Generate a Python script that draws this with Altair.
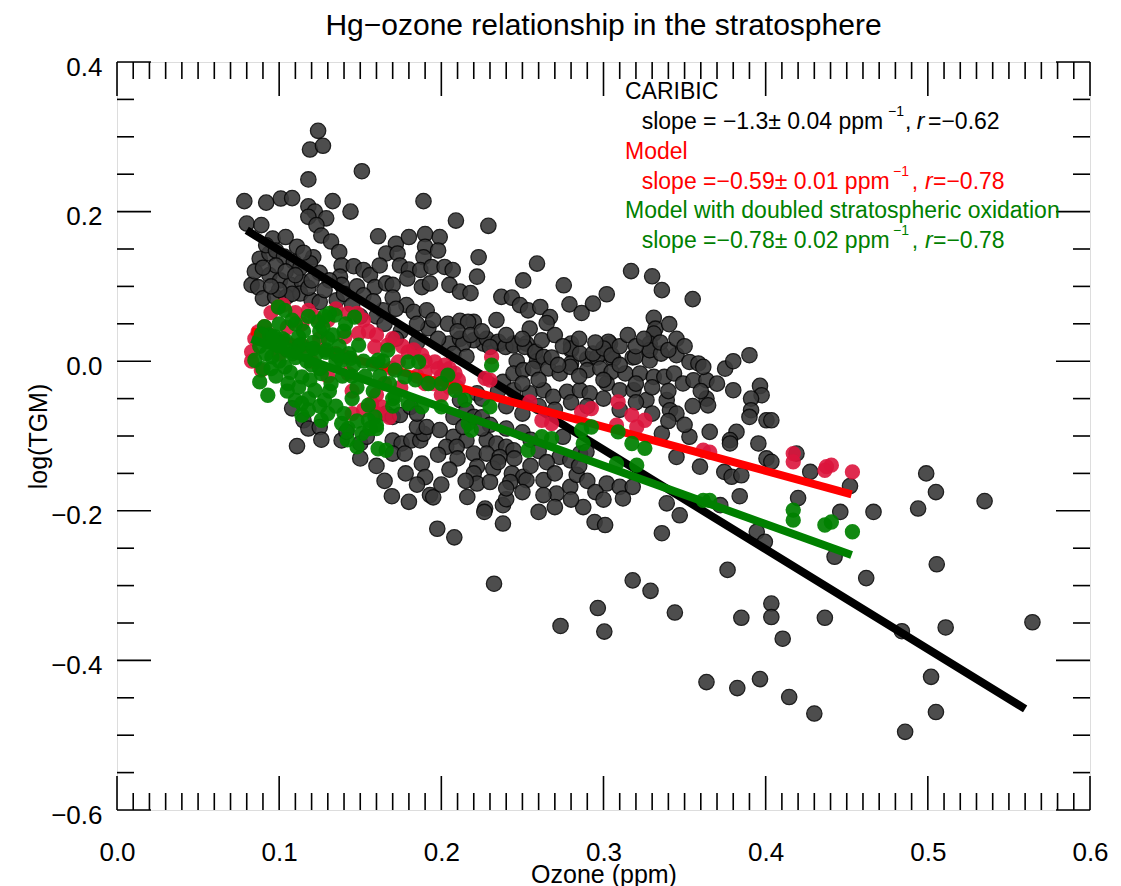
import altair as alt
import pandas as pd

F = "Liberation Sans"
W, H = 973, 748

# ---------------- data ----------------
caribic_ozone = [
    0.124, 0.119, 0.127, 0.151, 0.118, 0.0785, 0.092, 0.101, 0.108, 0.133, 0.118, 0.122, 0.144, 0.189, 0.209,
    0.080, 0.089, 0.118, 0.129, 0.123, 0.126, 0.096, 0.104, 0.111, 0.132, 0.137, 0.161, 0.172, 0.180, 0.190,
    0.199, 0.166, 0.173, 0.190, 0.198, 0.189, 0.223, 0.121, 0.119, 0.088, 0.094, 0.1385, 0.146, 0.152, 0.156,
    0.162, 0.1745, 0.180, 0.187, 0.194, 0.202, 0.207, 0.222, 0.094, 0.1005, 0.107, 0.114, 0.083, 0.087, 0.1375,
    0.1385, 0.159, 0.166, 0.170, 0.179, 0.188, 0.193, 0.205, 0.2115, 0.218, 0.090, 0.0975, 0.1045, 0.113, 0.120,
    0.125, 0.1355, 0.164, 0.1785, 0.183, 0.191, 0.204, 0.2115, 0.220, 0.192,
    0.229, 0.259, 0.2505, 0.2755, 0.237, 0.2435, 0.2485, 0.2535, 0.261, 0.267, 0.265, 0.2545, 0.279, 0.2865,
    0.2935, 0.302, 0.317, 0.330, 0.336, 0.355, 0.331, 0.332, 0.331, 0.3405, 0.234, 0.226, 0.232, 0.236, 0.2445,
    0.2525, 0.280, 0.304, 0.3285,
    0.2165, 0.205, 0.2115, 0.220, 0.228, 0.235, 0.2575, 0.280, 0.303, 0.302, 0.3285, 0.2465, 0.259, 0.280,
    0.290, 0.296, 0.306, 0.318, 0.3285,
    0.2135, 0.2075, 0.2155, 0.108, 0.115, 0.118, 0.125, 0.111, 0.126, 0.1385, 0.1415, 0.150, 0.154, 0.166,
    0.170, 0.1745, 0.170, 0.1755, 0.1815, 0.187, 0.189, 0.170, 0.1775, 0.188, 0.185, 0.191, 0.199, 0.2075,
    0.2155, 0.220, 0.222, 0.220, 0.203, 0.2095, 0.181, 0.185,
    0.2115, 0.2155, 0.222, 0.220, 0.2075, 0.2135,
    0.230, 0.2395, 0.2445, 0.2515, 0.258, 0.263, 0.280, 0.2855, 0.2935, 0.300, 0.305, 0.3195, 0.3285, 0.3355,
    0.345, 0.353, 0.3585, 0.390,
    0.238, 0.2445, 0.2505, 0.2565, 0.266, 0.273, 0.2795, 0.290, 0.298, 0.305, 0.3135, 0.3225, 0.331, 0.3375,
    0.3435, 0.349, 0.3555, 0.3635, 0.380,
    0.2445, 0.2545, 0.263, 0.269, 0.2775, 0.2855, 0.2915, 0.302, 0.310, 0.3185, 0.3265, 0.339, 0.341, 0.345,
    0.228, 0.234, 0.240, 0.228, 0.236, 0.2445,
    0.232, 0.2435, 0.2505, 0.263, 0.271, 0.2795, 0.2835,
    0.227, 0.238, 0.238, 0.260, 0.263,
    0.275, 0.273, 0.2795, 0.2855, 0.2895,
    0.2875, 0.2945, 0.301,
    0.302, 0.310, 0.312, 0.318,
    0.336, 0.345, 0.353,
    0.339, 0.347, 0.336,
    0.3615, 0.3965, 0.3975, 0.391, 0.3635, 0.3645, 0.391, 0.390, 0.4005, 0.4035, 0.3655, 0.382, 0.378, 0.378,
    0.3955, 0.4005, 0.4035, 0.3595, 0.419, 0.3745, 0.379, 0.385, 0.4275, 0.452, 0.384, 0.420, 0.372, 0.446,
    0.4665, 0.499, 0.505, 0.494, 0.535, 0.3945, 0.3995, 0.4425, 0.3765, 0.462, 0.5055, 0.4035, 0.385, 0.4035,
    0.4105, 0.4365, 0.484, 0.511, 0.5645, 0.3635, 0.3825, 0.3965, 0.4145, 0.430, 0.502, 0.505, 0.486,
    0.1695, 0.180, 0.193, 0.195, 0.216, 0.2265, 0.240, 0.1975, 0.208, 0.2325, 0.318, 0.329, 0.344, 0.2965,
    0.3005, 0.2735, 0.222, 0.230, 0.2425, 0.2525,
    # dense parts
    0.092, 0.098, 0.103, 0.109, 0.113, 0.098, 0.104, 0.110, 0.085, 0.090, 0.115, 0.125, 0.131, 0.128, 0.118,
    0.108, 0.100, 0.095, 0.120, 0.140, 0.148, 0.152, 0.158, 0.170, 0.172, 0.160, 0.145, 0.150, 0.165, 0.175,
    0.185, 0.195, 0.198, 0.185, 0.172,
    0.210, 0.218, 0.225, 0.240, 0.250, 0.262, 0.270, 0.275, 0.285, 0.295, 0.310, 0.315, 0.320, 0.325, 0.335,
    0.340, 0.345, 0.350, 0.268, 0.272, 0.285, 0.300, 0.310, 0.320, 0.330, 0.340, 0.260, 0.250, 0.235, 0.225,
    0.240, 0.250, 0.260, 0.270, 0.280, 0.290, 0.300, 0.310, 0.320, 0.330, 0.340, 0.350, 0.355, 0.360, 0.370,
    0.375, 0.380,
    0.225, 0.230, 0.240, 0.250, 0.255, 0.260, 0.265, 0.255, 0.245, 0.235, 0.225, 0.270, 0.285, 0.290, 0.295,
    0.300, 0.280, 0.270, 0.250, 0.240, 0.210, 0.215, 0.205, 0.198, 0.190, 0.200, 0.185, 0.178, 0.165, 0.160,
    0.150,
]
caribic_logtgm = [
    0.308, 0.283, 0.288, 0.254, 0.243, 0.214, 0.212, 0.2175, 0.218, 0.214, 0.207, 0.200, 0.200, 0.214, 0.188,
    0.184, 0.182, 0.193, 0.191, 0.182, 0.168, 0.164, 0.166, 0.153, 0.160, 0.146, 0.167, 0.157, 0.166, 0.170,
    0.166, 0.144, 0.144, 0.153, 0.148, 0.139, 0.139, 0.139, 0.131, 0.137, 0.144, 0.128, 0.127, 0.122, 0.115,
    0.128, 0.128, 0.1225, 0.122, 0.126, 0.126, 0.122, 0.113, 0.115, 0.108, 0.102, 0.106, 0.102, 0.099, 0.113,
    0.102, 0.099, 0.104, 0.102, 0.1105, 0.099, 0.104, 0.102, 0.093, 0.091, 0.084, 0.086, 0.086, 0.0905, 0.0815,
    0.079, 0.0815, 0.068, 0.075, 0.066, 0.068, 0.050, 0.054, 0.0525, 0.044,
    0.181, 0.1305, 0.108, 0.1015, 0.086, 0.085, 0.075, 0.068, 0.0725, 0.059, 0.051, 0.0435, 0.076, 0.0645,
    0.077, 0.0895, 0.1205, 0.1135, 0.095, 0.083, 0.058, 0.0435, 0.037, 0.0495, 0.055, 0.0235, 0.0235, 0.0235, 0.0235,
    0.0235, 0.0235, 0.0235, 0.0235,
    0.0525, 0.0235, 0.030, 0.028, 0.030, 0.026, 0.0125, 0.0147, 0.026, 0.0103, 0.0147, 0.0, 0.0, -0.003,
    0.003, 0.005, 0.003, 0.005, 0.001,
    0.0235, 0.010, 0.006, -0.063, -0.079, -0.090, -0.088, -0.1135, -0.105, -0.106, -0.0945, -0.110, -0.101, -0.070,
    -0.0745, -0.072, -0.106, -0.110, -0.106, -0.106, -0.097, -0.1235, -0.1235, -0.137, -0.088, -0.088, -0.092, -0.101,
    -0.106, -0.1235, -0.141, -0.150, -0.1145, -0.1145, -0.061, -0.070,
    -0.052, -0.0655, -0.043, -0.0745, -0.0745, -0.088,
    0.019, 0.019, 0.021, 0.019, 0.0125, 0.0057, 0.017, 0.0102, 0.0102, 0.017, 0.008, 0.0057, 0.0147, 0.0102,
    0.008, -0.001, -0.003, 0.008,
    -0.0277, -0.0164, -0.012, -0.0098, -0.0098, -0.0164, -0.0076, -0.012, -0.0098, -0.0143, -0.0164, -0.0164, -0.021, -0.021,
    -0.0164, -0.0298, -0.0254, -0.0254, -0.0388,
    -0.0388, -0.043, -0.0388, -0.0477, -0.041, -0.0388, -0.043, -0.0298, -0.0388, -0.0388, -0.052, -0.052, -0.0655, -0.070,
    -0.1055, -0.110, -0.1145, -0.1235, -0.128, -0.119,
    -0.1435, -0.150, -0.1545, -0.159, -0.177, -0.168, -0.152,
    -0.197, -0.1925, -0.217, -0.2015, -0.179,
    -0.101, -0.128, -0.1325, -0.1235, -0.121,
    -0.195, -0.215, -0.219,
    -0.1635, -0.168, -0.1835, -0.168,
    -0.0967, -0.128, -0.101,
    -0.190, -0.206, -0.230,
    -0.0076, -0.033, -0.0455, -0.050, -0.050, -0.059, -0.0655, -0.0745, -0.079, -0.079, -0.0945, -0.0945, -0.1055, -0.110,
    -0.110, -0.130, -0.1345, -0.141, -0.1235, -0.148, -0.1545, -0.1525, -0.148, -0.167, -0.1805, -0.183, -0.1925, -0.2015,
    -0.2015, -0.150, -0.175, -0.197, -0.187, -0.228, -0.2415, -0.2615, -0.279, -0.290, -0.2715, -0.324, -0.343, -0.342,
    -0.371, -0.343, -0.361, -0.356, -0.349, -0.429, -0.437, -0.425, -0.449, -0.471, -0.422, -0.469, -0.4955,
    -0.1805, -0.188, -0.179, -0.182, -0.1815, -0.2015, -0.1845, -0.224, -0.2355, -0.2975, -0.293, -0.307, -0.336, -0.330,
    -0.3615, -0.354, -0.1635, -0.1615, -0.1615, -0.159,
    # dense parts
    0.155, 0.148, 0.140, 0.133, 0.125, 0.128, 0.120, 0.115, 0.120, 0.125, 0.145, 0.118, 0.108, 0.095, 0.098,
    0.090, 0.095, 0.100, 0.108, 0.090, 0.100, 0.088, 0.080, 0.085, 0.070, 0.060, 0.075, 0.060, 0.050, 0.040,
    0.050, 0.055, 0.030, 0.025, 0.030,
    0.040, 0.035, 0.040, 0.035, 0.030, 0.028, 0.035, 0.020, 0.030, 0.025, 0.020, 0.035, 0.020, 0.030, 0.025,
    0.015, 0.030, 0.020, 0.005, -0.005, -0.020, -0.025, -0.005, -0.030, -0.035, -0.040, -0.025, -0.030, -0.040, -0.050,
    -0.060, -0.070, -0.060, -0.065, -0.055, -0.060, -0.050, -0.065, -0.055, -0.070, -0.080, -0.085, -0.060, -0.040, -0.030,
    -0.010, 0.000,
    -0.075, -0.085, -0.090, -0.095, -0.105, -0.120, -0.135, -0.140, -0.130, -0.135, -0.090, -0.150, -0.140, -0.160, -0.175,
    -0.185, -0.185, -0.195, -0.175, -0.170, -0.130, -0.160, -0.145, -0.125, -0.155, -0.165, -0.165, -0.150, -0.160, -0.140,
    -0.130,
]

model_ozone = [
    0.1025, 0.0995, 0.087, 0.091, 0.083, 0.114, 0.122, 0.1425, 0.148, 0.149, 0.1405, 0.159, 0.167, 0.1795,
    0.188, 0.196, 0.202, 0.2085, 0.2105, 0.1735, 0.1695, 0.157, 0.163, 0.1405, 0.1425, 0.089, 0.093,
    0.105, 0.130, 0.125, 0.115, 0.135, 0.155, 0.165, 0.160, 0.185, 0.195, 0.175, 0.120, 0.100, 0.145, 0.130,
    0.200, 0.205, 0.190, 0.2055, 0.227,
    0.095, 0.110, 0.118, 0.135, 0.152, 0.160, 0.170, 0.176, 0.183, 0.190, 0.198, 0.205, 0.210, 0.200, 0.190,
    0.168, 0.160, 0.152, 0.085, 0.083, 0.145,
    0.231, 0.230, 0.2545, 0.262, 0.268, 0.2865, 0.2925, 0.309, 0.3175, 0.3255, 0.3205, 0.308, 0.3615, 0.3655,
    0.417, 0.417, 0.4375, 0.4405, 0.4365, 0.4535,
]
model_logtgm = [
    0.075, 0.0725, 0.039, 0.046, 0.0125, 0.050, 0.059, 0.064, 0.064, 0.037, 0.0325, 0.019, 0.0214, 0.0125,
    0.008, -0.001, -0.0053, -0.0164, -0.025, -0.001, -0.0098, -0.0566, -0.061, 0.0057, -0.0164, -0.012, 0.037,
    0.045, 0.055, 0.030, 0.020, 0.010, 0.040, -0.030, -0.045, -0.020, -0.030, -0.035, 0.000, 0.010, -0.040, -0.020,
    -0.020, -0.035, -0.015, -0.021, -0.023,
    0.065, 0.065, 0.068, 0.070, 0.055, 0.035, 0.030, 0.020, 0.015, 0.000, -0.010, -0.010, -0.035, -0.045, -0.030,
    -0.075, -0.070, -0.065, 0.030, 0.000, -0.070,
    0.0057, -0.0254, -0.0544, -0.079, -0.0833, -0.0678, -0.0633, -0.0544, -0.072, -0.079, -0.088, -0.0855, -0.119, -0.1215,
    -0.1235, -0.1345, -0.141, -0.139, -0.146, -0.148,
]

model2_ozone = [
    0.1035, 0.091, 0.085, 0.088, 0.093, 0.110, 0.114, 0.126, 0.1385, 0.1425, 0.151, 0.148, 0.160, 0.155,
    0.161, 0.166, 0.167, 0.1465, 0.1345, 0.124, 0.112, 0.0975, 0.149, 0.1385, 0.126, 0.114, 0.1035, 0.0955,
    0.161, 0.1715, 0.1795, 0.186, 0.1775, 0.184, 0.192, 0.200, 0.204, 0.2085, 0.1715, 0.1795, 0.188, 0.200,
    0.2145, 0.2165, 0.2185, 0.122, 0.128, 0.114, 0.1055, 0.155, 0.159, 0.160,
    0.100, 0.108, 0.118, 0.130, 0.140, 0.120, 0.132, 0.145, 0.098, 0.110, 0.125, 0.135, 0.145, 0.118,
    0.0995, 0.131,
    0.088, 0.092, 0.095, 0.100, 0.102, 0.105, 0.107, 0.110, 0.112, 0.115, 0.117, 0.119, 0.121, 0.123, 0.125,
    0.127, 0.129, 0.131, 0.133, 0.135, 0.137, 0.139, 0.141, 0.143, 0.146, 0.148, 0.153, 0.158, 0.162, 0.164,
    0.168, 0.170, 0.105, 0.112, 0.118, 0.125, 0.130, 0.140, 0.148, 0.100, 0.108, 0.118, 0.128, 0.094, 0.090,
    0.089, 0.096, 0.104, 0.113, 0.121, 0.129, 0.136, 0.144, 0.152, 0.158, 0.170, 0.156, 0.142,
    0.231, 0.230, 0.2535, 0.262, 0.268, 0.2865, 0.2875, 0.2925, 0.309, 0.3175, 0.3255, 0.3205, 0.308, 0.3615,
    0.3655, 0.417, 0.417, 0.4365, 0.4405, 0.4535,
]
model2_logtgm = [
    0.068, 0.046, 0.0013, -0.0277, -0.0455, -0.052, -0.072, -0.079, -0.0833, -0.090, -0.0967, -0.1145, -0.0855, -0.0588,
    -0.117, -0.119, 0.0147, 0.059, 0.0615, 0.0525, 0.0325, 0.0325, 0.0214, 0.0013, -0.0164, -0.021, -0.0076, 0.0057,
    0.0013, -0.012, -0.001, -0.001, -0.021, -0.025, -0.0298, -0.0298, -0.0187, -0.0388, -0.0477, -0.0566, -0.061, -0.061,
    -0.052, -0.0833, -0.092, -0.0388, -0.052, -0.0566, -0.0298, -0.079, -0.0745, -0.090,
    0.020, 0.010, 0.015, 0.030, 0.040, -0.005, -0.030, -0.020, -0.020, 0.050, 0.040, -0.060, -0.050, -0.065,
    0.0725, 0.064,
    0.020, 0.010, -0.010, 0.000, 0.030, 0.015, -0.015, 0.005, 0.020, 0.040, 0.000, -0.025, 0.025, 0.010, -0.010,
    0.045, 0.015, -0.040, 0.035, 0.000, 0.020, -0.020, 0.050, 0.010, -0.005, -0.035, -0.020, -0.040, -0.020, 0.000,
    -0.030, -0.060, -0.040, -0.035, -0.050, -0.060, -0.070, -0.070, -0.080, 0.050, 0.055, 0.060, 0.060, 0.035, -0.010,
    0.036, 0.032, 0.027, 0.022, 0.017, 0.012, 0.008, 0.004, 0.000, -0.004, -0.050, -0.090, -0.105,
    -0.0053, -0.061, -0.119, -0.101, -0.1035, -0.092, -0.110, -0.088, -0.0945, -0.110, -0.1165, -0.139, -0.137, -0.186,
    -0.186, -0.199, -0.2125, -0.219, -0.215, -0.228,
]

# linear fits: slope, intercept and x-range
fit_slope = [-1.333, -0.59, -0.78]
fit_intercept = [0.2817, 0.0893, 0.0943]
fit_xmin = [0.08, 0.083, 0.083]
fit_xmax = [0.56, 0.453, 0.453]

# axis ticks
x_major = [0.0, 0.1, 0.2, 0.3, 0.4, 0.5, 0.6]
x_minor = [i / 100 for i in range(61) if i % 10 != 0]
y_major = [-0.6, -0.4, -0.2, 0.0, 0.2, 0.4]
y_minor = [round(-0.6 + i * 0.05, 2) for i in range(21) if i % 4 != 0]

# legend text
legend_head = ["CARIBIC", "Model", "Model with doubled stratospheric oxidation"]
legend_slope = ["slope = \u22121.3\u00b1 0.04 ppm", "slope =\u22120.59\u00b1 0.01 ppm", "slope =\u22120.78\u00b1 0.02 ppm"]
legend_r = ["=\u22120.62", "=\u22120.78", "=\u22120.78"]
legend_colors = ["black", "#FF0000", "#008000"]

# ---------------- chart ----------------
xs = alt.Scale(domain=[0, 0.6], nice=False, zero=False)
ys = alt.Scale(domain=[-0.6, 0.4], nice=False, zero=False)

XT, YT = "Ozone (ppm)", "log(TGM)"
xaxis = alt.Axis(values=x_major, format=".1f", ticks=False, tickSize=0, domain=False, grid=False,
                 labelFont=F, labelFontSize=26, labelColor="black", labelPadding=29, labelFlush=False,
                 labelOverlap=False, titleFont=F, titleFontSize=25, titleFontWeight="normal", titleColor="black",
                 titleX=W / 2, titleY=64, titleBaseline="middle", titleAlign="center")
yaxis = alt.Axis(values=y_major, format=".1f", ticks=False, tickSize=0, domain=False, grid=False,
                 labelFont=F, labelFontSize=26, labelColor="black", labelPadding=15, labelOffset=5,
                 labelOverlap=False, titleFont=F, titleFontSize=25, titleFontWeight="normal", titleColor="black",
                 titleX=-79, titleY=H / 2, titleBaseline="middle", titleAlign="center", titleAngle=-90)


def X(field):
    return alt.X(field, scale=xs, axis=xaxis, title=XT)


def Y(field):
    return alt.Y(field, scale=ys, axis=yaxis, title=YT)


df_c = pd.DataFrame({"ozone": caribic_ozone, "logtgm": caribic_logtgm})
df_m = pd.DataFrame({"ozone": model_ozone, "logtgm": model_logtgm})
df_m2 = pd.DataFrame({"ozone": model2_ozone, "logtgm": model2_logtgm})


def fit_df(i):
    xa, xb = fit_xmin[i], fit_xmax[i]
    return pd.DataFrame({"ozone": [xa, xb],
                         "logtgm": [fit_intercept[i] + fit_slope[i] * xa, fit_intercept[i] + fit_slope[i] * xb]})


SZ = 235


def pts(df, **kw):
    return alt.Chart(df).mark_circle(size=SZ, **kw).encode(x=X("ozone:Q"), y=Y("logtgm:Q"))


def fline(i, color):
    return alt.Chart(fit_df(i)).mark_line(color=color, strokeWidth=8, strokeCap="butt").encode(
        x=X("ozone:Q"), y=Y("logtgm:Q"))


black_pts = pts(df_c, fill="#3a3a3a", stroke="#080808", strokeWidth=1.3, opacity=0.9)
red_pts = pts(df_m, fill="#DC143C", opacity=0.9)
green_pts = pts(df_m2, fill="#008000", opacity=0.93)


def ticks_x(vals, length, top):
    y1, y2 = (0, length) if top else (H, H - length)
    return alt.Chart(pd.DataFrame({"v": vals})).mark_rule(color="black", strokeWidth=1.6).encode(
        x=X("v:Q"), y=alt.value(y1), y2=alt.value(y2))


def ticks_y(vals, length, right):
    x1, x2 = (W, W - length) if right else (0, length)
    return alt.Chart(pd.DataFrame({"v": vals})).mark_rule(color="black", strokeWidth=1.6).encode(
        y=Y("v:Q"), x=alt.value(x1), x2=alt.value(x2))


def txt(s, x, y, color, size=23, style="normal"):
    return alt.Chart(pd.DataFrame({"t": [s]})).mark_text(
        align="left", baseline="alphabetic", font=F, fontSize=size, fontStyle=style, color=color).encode(
        x=alt.value(x), y=alt.value(y), text="t:N")


texts = []
head_y = [37.3, 97.3, 156.3]
slope_y = [67.3, 127.3, 186.3]
sup_x = [771, 776, 776]
comma_x = [788, 794.7, 794.7]
r_x = [799.7, 808, 808]
eq_x = [811, 816, 816]
for i in range(3):
    c = legend_colors[i]
    texts += [
        txt(legend_head[i], 508, head_y[i], c),
        txt(legend_slope[i], 524.7, slope_y[i], c),
        txt("\u22121", sup_x[i], slope_y[i] - 13.5, c, size=14),
        txt(",", comma_x[i], slope_y[i], c),
        txt("r", r_x[i], slope_y[i], c, style="italic"),
        txt(legend_r[i], eq_x[i], slope_y[i], c),
    ]

layers = [
    black_pts,
    fline(0, "black"),
    red_pts,
    fline(1, "#FF0000"),
    green_pts,
    fline(2, "#008000"),
    ticks_x(x_minor, 17, False), ticks_x(x_major, 34, False),
    ticks_x(x_minor, 17, True), ticks_x(x_major, 34, True),
    ticks_y(y_minor, 17, False), ticks_y(y_major, 34, False),
    ticks_y(y_minor, 17, True), ticks_y(y_major, 34, True),
] + texts

chart = alt.layer(*layers).properties(
    width=W, height=H,
    padding={"left": 109, "top": 54, "right": 20, "bottom": 76},
    autosize=alt.AutoSizeParams(type="none"),
    title=alt.TitleParams(text="Hg\u2212ozone relationship in the stratosphere", font=F, fontSize=30,
                          fontWeight="normal", color="black", anchor="middle", frame="group", offset=13),
).configure_view(stroke="black", strokeWidth=2).configure(background="white")

chart.save("out.html", embed_options={"renderer": "svg", "actions": False})
